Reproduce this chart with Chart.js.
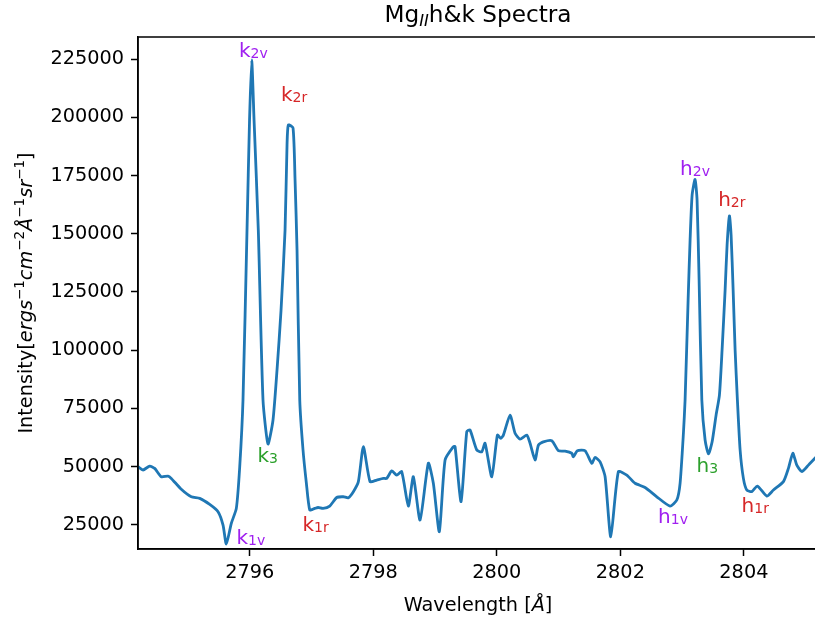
<!DOCTYPE html>
<html>
<head>
<meta charset="utf-8">
<script src="https://cdn.jsdelivr.net/npm/chart.js@4.4.1/dist/chart.umd.min.js"></script>
<style>
  html, body { margin: 0; padding: 0; background: #fff; overflow: hidden; }
  #wrap { width: 815px; height: 619px; overflow: hidden; }
  canvas { display: block; }
</style>
</head>
<body>
<div id="wrap"><canvas id="c" width="820" height="619"></canvas></div>
<script>
// ---- Data ----
const wavelength = [
  2794.190, 2794.271, 2794.380, 2794.460, 2794.567, 2794.676, 2794.729, 2794.891, 2795.053, 2795.189,
  2795.351, 2795.486, 2795.567, 2795.620, 2795.701, 2795.782, 2795.837, 2795.890, 2795.955, 2795.996,
  2796.031, 2796.069, 2796.138, 2796.214, 2796.295, 2796.376, 2796.441, 2796.506, 2796.571, 2796.603,
  2796.624, 2796.700, 2796.733, 2796.765, 2796.809, 2796.862, 2796.916, 2796.971, 2797.052, 2797.105,
  2797.186, 2797.294, 2797.408, 2797.515, 2797.596, 2797.677, 2797.758, 2797.839, 2797.947, 2798.056,
  2798.162, 2798.217, 2798.298, 2798.379, 2798.460, 2798.567, 2798.648, 2798.757, 2798.891, 2798.972,
  2799.069, 2799.162, 2799.296, 2799.324, 2799.421, 2799.513, 2799.566, 2799.675, 2799.756, 2799.809,
  2799.918, 2800.009, 2800.064, 2800.106, 2800.214, 2800.295, 2800.376, 2800.485, 2800.538, 2800.619,
  2800.673, 2800.753, 2800.890, 2800.996, 2801.105, 2801.213, 2801.239, 2801.304, 2801.429, 2801.537,
  2801.591, 2801.672, 2801.753, 2801.845, 2801.968, 2802.104, 2802.238, 2802.400, 2802.590, 2802.805,
  2802.914, 2802.967, 2803.021, 2803.048, 2803.097, 2803.129, 2803.162, 2803.210, 2803.242, 2803.275,
  2803.319, 2803.372, 2803.426, 2803.485, 2803.550, 2803.604, 2803.647, 2803.696, 2803.728, 2803.766,
  2803.793, 2803.826, 2803.858, 2803.895, 2803.939, 2803.992, 2804.047, 2804.128, 2804.219, 2804.371,
  2804.478, 2804.640, 2804.721, 2804.792, 2804.857, 2804.938, 2805.045, 2805.200
];
const intensity = [
  49900, 48500, 50200, 49200, 45600, 45900, 44900, 40200, 37000, 36300,
  33700, 30600, 24800, 16700, 25600, 32000, 49900, 78600, 151600, 198900,
  224700, 198900, 151600, 78600, 59700, 70000, 91500, 117200, 151600, 188200,
  196800, 195500, 173100, 143000, 78600, 57100, 42900, 31300, 32000, 32400,
  32000, 33000, 36700, 37000, 36600, 39200, 43500, 58500, 43500, 44200,
  44900, 44900, 48100, 46300, 47800, 33000, 45600, 27000, 51400, 42800,
  22000, 52800, 58500, 58500, 34900, 65000, 65700, 57100, 56300, 60000,
  45600, 63500, 62100, 63500, 72100, 64300, 61800, 63500, 60000, 52800,
  59200, 60600, 61100, 56800, 56600, 55700, 54200, 56800, 56800, 51400,
  53900, 52000, 45600, 19800, 47800, 46300, 42800, 41000, 37000, 33000,
  35600, 42800, 64300, 78600, 121500, 147300, 166700, 173400, 164500, 130100,
  78600, 61400, 55400, 60500, 72100, 80700, 100100, 125800, 145200, 157700,
  149500, 125800, 100100, 78600, 57100, 44900, 39900, 39200, 41600, 37300,
  39900, 43500, 49200, 55700, 50600, 47800, 50600, 54900
];
const xTicks = [2796, 2798, 2800, 2802, 2804];
const yTicks = [25000, 50000, 75000, 100000, 125000, 150000, 175000, 200000, 225000];

// Line-feature annotations (letter, subscript, anchor wavelength, anchor intensity, group)
const featLetter = ['k', 'k', 'k', 'k', 'k', 'h', 'h', 'h', 'h', 'h'];
const featSub    = ['2v', '2r', '3', '1v', '1r', '2v', '2r', '3', '1v', '1r'];
const featX      = [2795.826, 2796.506, 2796.125, 2795.785, 2796.854, 2802.967, 2803.583, 2803.234, 2802.611, 2803.963];
const featY      = [226000, 207100, 51900, 16700, 22300, 175300, 162000, 47600, 25700, 30400];
const featKind   = ['v', 'r', 'c', 'v', 'r', 'v', 'r', 'c', 'v', 'r'];

// ---- Styles ----
const FONT = "'DejaVu Sans', 'Liberation Sans', sans-serif";
const kindColor = { v: '#a020f0', r: '#d62728', c: '#2ca02c' };
const LBL = 19.3;   // tick / axis label size
const TTL = 23.2;   // title size

function richWidth(ctx, segs) {
  let w = 0;
  for (const s of segs) { ctx.font = (s.italic ? 'italic ' : '') + s.size + 'px ' + FONT; w += ctx.measureText(s.text).width; }
  return w;
}
function drawRich(ctx, segs, x, y) {
  let cx = x;
  for (const s of segs) {
    ctx.font = (s.italic ? 'italic ' : '') + s.size + 'px ' + FONT;
    ctx.fillText(s.text, cx, y + (s.dy || 0));
    cx += ctx.measureText(s.text).width;
  }
}

const decor = {
  id: 'decor',
  afterDraw(chart) {
    const ctx = chart.ctx;
    const a = chart.chartArea;
    const xs = chart.scales.x, ys = chart.scales.y;
    ctx.save();
    // frame
    ctx.strokeStyle = '#000';
    ctx.lineWidth = 1.5;
    ctx.strokeRect(a.left, a.top, a.right - a.left, a.bottom - a.top);

    ctx.textAlign = 'left';
    ctx.textBaseline = 'alphabetic';
    // title
    ctx.fillStyle = '#000';
    const tSegs = [
      { text: 'Mg', size: TTL },
      { text: 'II', size: TTL * 0.7, italic: true, dy: 4 },
      { text: 'h&k Spectra', size: TTL }
    ];
    const tw = richWidth(ctx, tSegs);
    drawRich(ctx, tSegs, (a.left + a.right) / 2 - tw / 2, 22);

    // x axis title
    const xSegs = [
      { text: 'Wavelength [', size: LBL },
      { text: 'Å', size: LBL, italic: true },
      { text: ']', size: LBL }
    ];
    const xw = richWidth(ctx, xSegs);
    drawRich(ctx, xSegs, (a.left + a.right) / 2 - xw / 2, 611);

    // y axis title
    const sup = LBL * 0.7, sdy = -8;
    const ySegs = [
      { text: 'Intensity[', size: LBL },
      { text: 'ergs', size: LBL, italic: true },
      { text: '−1', size: sup, dy: sdy },
      { text: 'cm', size: LBL, italic: true },
      { text: '−2', size: sup, dy: sdy },
      { text: 'Å', size: LBL, italic: true },
      { text: '−1', size: sup, dy: sdy },
      { text: 'sr', size: LBL, italic: true },
      { text: '−1', size: sup, dy: sdy },
      { text: ']', size: LBL }
    ];
    const yw = richWidth(ctx, ySegs);
    ctx.save();
    ctx.translate(32, (a.top + a.bottom) / 2);
    ctx.rotate(-Math.PI / 2);
    drawRich(ctx, ySegs, -yw / 2, 0);
    ctx.restore();

    // feature labels
    for (let i = 0; i < featLetter.length; i++) {
      const px = xs.getPixelForValue(featX[i]);
      const py = ys.getPixelForValue(featY[i]);
      ctx.fillStyle = kindColor[featKind[i]];
      drawRich(ctx, [
        { text: featLetter[i], size: 20 },
        { text: featSub[i], size: 14, dy: 1 }
      ], px, py);
    }
    ctx.restore();
  }
};

const tickFont = { family: FONT, size: LBL };

new Chart(document.getElementById('c'), {
  type: 'line',
  data: {
    datasets: [{
      data: wavelength.map((w, i) => ({ x: w, y: intensity[i] })),
      borderColor: '#1f77b4',
      borderWidth: 2.8,
      pointRadius: 0,
      tension: 0.2,
      fill: false
    }]
  },
  options: {
    responsive: false,
    animation: false,
    devicePixelRatio: 1,
    layout: { padding: { left: 0, top: 37, right: 2, bottom: 0 } },
    plugins: { legend: { display: false }, tooltip: { enabled: false }, title: { display: false } },
    scales: {
      x: {
        type: 'linear',
        min: 2794.19,
        max: 2805.20,
        afterBuildTicks: s => { s.ticks = xTicks.map(v => ({ value: v })); },
        afterFit: s => { s.height = 70; },
        ticks: { color: '#000', font: tickFont, padding: 5, maxRotation: 0, callback: v => String(v) },
        grid: { display: true, drawOnChartArea: false, drawTicks: true, tickLength: 7, tickColor: '#000', tickWidth: 1.5 },
        border: { display: true, color: '#000', width: 1.5 }
      },
      y: {
        type: 'linear',
        min: 14555,
        max: 234585,
        afterBuildTicks: s => { s.ticks = yTicks.map(v => ({ value: v })); },
        afterFit: s => { s.width = 138; },
        ticks: { color: '#000', font: tickFont, padding: 7, callback: v => String(v) },
        grid: { display: true, drawOnChartArea: false, drawTicks: true, tickLength: 7, tickColor: '#000', tickWidth: 1.5 },
        border: { display: true, color: '#000', width: 1.5 }
      }
    }
  },
  plugins: [decor]
});
</script>
</body>
</html>
